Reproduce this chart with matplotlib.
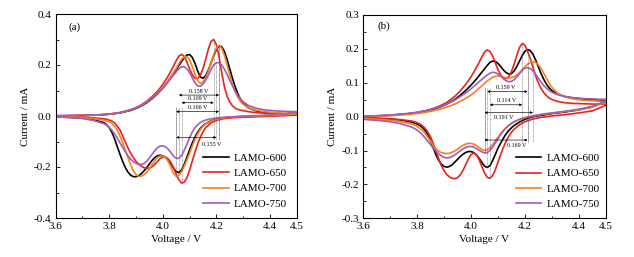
import numpy as np
import matplotlib
matplotlib.use("Agg")
import matplotlib.pyplot as plt

plt.rcParams["font.family"] = ["Liberation Serif", "DejaVu Serif"]
plt.rcParams["axes.unicode_minus"] = False

SAMPLES = ["LAMO-600", "LAMO-650", "LAMO-700", "LAMO-750"]
COLORS = ["#000000", "#e8231f", "#f5801f", "#a45cb6"]

# voltage grids (V) for the anodic (charge) and cathodic (discharge) sweeps
V_OX = [3.60, 3.70, 3.76, 3.80, 3.84, 3.88, 3.91, 3.94, 3.96,
        3.98, 3.99, 4.00, 4.01, 4.02, 4.03, 4.04, 4.05, 4.06, 4.07, 4.08,
        4.09, 4.10, 4.11, 4.12, 4.13, 4.14, 4.15, 4.16, 4.17, 4.18, 4.19,
        4.20, 4.21, 4.22, 4.23, 4.24, 4.25, 4.26, 4.27, 4.28, 4.29, 4.30,
        4.32, 4.35, 4.38, 4.42, 4.46, 4.50]
V_RED = [3.60, 3.65, 3.70, 3.74,
         3.78, 3.79, 3.80, 3.81, 3.82, 3.83, 3.84, 3.85, 3.86, 3.87,
         3.88, 3.89, 3.90, 3.91, 3.92, 3.93, 3.94, 3.95, 3.96, 3.97,
         3.98, 3.99, 4.00, 4.01, 4.02, 4.03, 4.04, 4.05, 4.06, 4.07,
         4.08, 4.09, 4.10, 4.11, 4.12, 4.13, 4.14, 4.15, 4.16,
         4.18, 4.20, 4.23, 4.26, 4.30, 4.35, 4.40, 4.45, 4.50]

# ---- panel (a) currents (mA) ----
A_OX_600 = [0.000, 0.002, 0.004, 0.007, 0.012, 0.022, 0.034, 0.052, 0.068,
            0.087, 0.098, 0.110, 0.123, 0.137, 0.152, 0.167, 0.182, 0.198, 0.214, 0.229,
            0.239, 0.241, 0.230, 0.207, 0.177, 0.153, 0.148, 0.158, 0.180, 0.208, 0.236,
            0.260, 0.274, 0.272, 0.253, 0.222, 0.185, 0.148, 0.115, 0.088, 0.066, 0.050,
            0.032, 0.020, 0.014, 0.010, 0.008, 0.008]
A_OX_650 = [0.000, 0.002, 0.004, 0.007, 0.013, 0.024, 0.037, 0.058, 0.076,
            0.097, 0.110, 0.124, 0.140, 0.157, 0.176, 0.196, 0.217, 0.235, 0.242, 0.233,
            0.212, 0.185, 0.162, 0.148, 0.147, 0.160, 0.186, 0.222, 0.262, 0.293, 0.300,
            0.280, 0.232, 0.170, 0.115, 0.078, 0.055, 0.040, 0.031, 0.026, 0.023, 0.021,
            0.017, 0.013, 0.011, 0.009, 0.007, 0.006]
A_OX_700 = [0.000, 0.002, 0.004, 0.007, 0.013, 0.024, 0.036, 0.055, 0.071,
            0.090, 0.101, 0.113, 0.126, 0.140, 0.155, 0.171, 0.187, 0.205, 0.222, 0.233,
            0.233, 0.220, 0.195, 0.165, 0.138, 0.128, 0.133, 0.150, 0.176, 0.207, 0.239,
            0.266, 0.277, 0.266, 0.238, 0.200, 0.160, 0.124, 0.095, 0.073, 0.057, 0.046,
            0.032, 0.022, 0.017, 0.013, 0.011, 0.010]
A_OX_750 = [0.002, 0.003, 0.005, 0.008, 0.014, 0.025, 0.037, 0.055, 0.070,
            0.088, 0.098, 0.109, 0.121, 0.134, 0.147, 0.160, 0.173, 0.185, 0.193, 0.193,
            0.185, 0.170, 0.150, 0.130, 0.118, 0.117, 0.125, 0.140, 0.160, 0.182, 0.200,
            0.209, 0.209, 0.200, 0.184, 0.163, 0.140, 0.118, 0.098, 0.081, 0.067, 0.056,
            0.041, 0.030, 0.024, 0.020, 0.018, 0.017]

A_RED_600 = [-0.004, -0.005, -0.008, -0.015,
             -0.026, -0.034, -0.046, -0.064, -0.090, -0.120, -0.150, -0.178, -0.202, -0.220,
             -0.232, -0.238, -0.238, -0.234, -0.226, -0.215, -0.202, -0.188, -0.174, -0.163,
             -0.156, -0.154, -0.156, -0.162, -0.172, -0.187, -0.204, -0.218, -0.222, -0.212,
             -0.190, -0.162, -0.133, -0.106, -0.083, -0.064, -0.049, -0.038, -0.030,
             -0.019, -0.012, -0.007, -0.004, -0.002, 0.000, 0.002, 0.004, 0.008]
A_RED_650 = [-0.003, -0.004, -0.005, -0.007,
             -0.011, -0.013, -0.016, -0.020, -0.027, -0.040, -0.055, -0.078, -0.102, -0.125,
             -0.146, -0.163, -0.178, -0.189, -0.197, -0.203, -0.205, -0.204, -0.199, -0.190,
             -0.178, -0.167, -0.161, -0.161, -0.168, -0.182, -0.203, -0.228, -0.250, -0.263,
             -0.260, -0.242, -0.212, -0.177, -0.142, -0.110, -0.083, -0.062, -0.046,
             -0.027, -0.017, -0.010, -0.007, -0.005, -0.003, -0.001, 0.001, 0.004]
A_RED_700 = [-0.004, -0.005, -0.007, -0.010,
             -0.016, -0.019, -0.023, -0.029, -0.040, -0.056, -0.078, -0.105, -0.135, -0.164,
             -0.192, -0.215, -0.230, -0.237, -0.236, -0.230, -0.220, -0.206, -0.190, -0.175,
             -0.163, -0.157, -0.157, -0.163, -0.178, -0.200, -0.225, -0.237, -0.232, -0.218,
             -0.197, -0.172, -0.146, -0.118, -0.092, -0.070, -0.053, -0.040, -0.031,
             -0.020, -0.013, -0.007, -0.004, -0.002, 0.000, 0.002, 0.005, 0.009]
A_RED_750 = [-0.004, -0.006, -0.010, -0.017,
             -0.030, -0.036, -0.045, -0.056, -0.070, -0.087, -0.105, -0.123, -0.140, -0.156,
             -0.169, -0.179, -0.186, -0.190, -0.190, -0.186, -0.177, -0.164, -0.150, -0.136,
             -0.124, -0.118, -0.117, -0.121, -0.130, -0.143, -0.157, -0.166, -0.166, -0.155,
             -0.135, -0.110, -0.085, -0.063, -0.046, -0.034, -0.026, -0.020, -0.016,
             -0.011, -0.008, -0.005, -0.003, -0.001, 0.001, 0.004, 0.008, 0.014]

# ---- panel (b) currents (mA) ----
B_OX_600 = [0.000, 0.004, 0.008, 0.012, 0.018, 0.027, 0.037, 0.051, 0.063,
            0.077, 0.085, 0.093, 0.102, 0.111, 0.121, 0.131, 0.141, 0.151, 0.160, 0.164,
            0.163, 0.157, 0.148, 0.138, 0.130, 0.126, 0.127, 0.135, 0.148, 0.164, 0.180,
            0.193, 0.198, 0.195, 0.184, 0.167, 0.147, 0.127, 0.110, 0.096, 0.085, 0.077,
            0.067, 0.059, 0.055, 0.052, 0.050, 0.048]
B_OX_650 = [0.000, 0.004, 0.008, 0.012, 0.019, 0.030, 0.042, 0.060, 0.076,
            0.095, 0.106, 0.118, 0.131, 0.145, 0.160, 0.176, 0.190, 0.197, 0.193, 0.179,
            0.159, 0.139, 0.123, 0.114, 0.112, 0.118, 0.133, 0.155, 0.181, 0.204, 0.216,
            0.211, 0.192, 0.172, 0.145, 0.120, 0.099, 0.083, 0.071, 0.062, 0.055, 0.051,
            0.045, 0.041, 0.039, 0.038, 0.037, 0.037]
B_OX_700 = [0.000, 0.003, 0.006, 0.009, 0.014, 0.021, 0.028, 0.037, 0.045,
            0.054, 0.059, 0.064, 0.070, 0.077, 0.084, 0.091, 0.098, 0.105, 0.111, 0.116,
            0.119, 0.120, 0.119, 0.117, 0.115, 0.114, 0.115, 0.118, 0.123, 0.130, 0.138,
            0.147, 0.155, 0.160, 0.162, 0.160, 0.153, 0.142, 0.128, 0.113, 0.099, 0.087,
            0.070, 0.058, 0.052, 0.048, 0.046, 0.045]
B_OX_750 = [0.001, 0.005, 0.009, 0.013, 0.019, 0.028, 0.037, 0.049, 0.059,
            0.070, 0.076, 0.082, 0.089, 0.096, 0.103, 0.110, 0.117, 0.123, 0.128, 0.131,
            0.130, 0.126, 0.120, 0.112, 0.106, 0.103, 0.104, 0.109, 0.117, 0.127, 0.137,
            0.143, 0.145, 0.142, 0.135, 0.125, 0.113, 0.102, 0.092, 0.084, 0.077, 0.072,
            0.065, 0.059, 0.056, 0.053, 0.052, 0.051]

B_RED_600 = [-0.004, -0.005, -0.007, -0.010,
             -0.016, -0.019, -0.022, -0.026, -0.032, -0.041, -0.054, -0.072, -0.093, -0.113,
             -0.129, -0.140, -0.147, -0.149, -0.147, -0.142, -0.134, -0.126, -0.118, -0.111,
             -0.106, -0.103, -0.103, -0.106, -0.113, -0.123, -0.135, -0.146, -0.150, -0.145,
             -0.130, -0.112, -0.093, -0.078, -0.064, -0.051, -0.041, -0.033, -0.026,
             -0.016, -0.008, 0.000, 0.004, 0.009, 0.014, 0.020, 0.029, 0.046]
B_RED_650 = [-0.004, -0.005, -0.007, -0.009,
             -0.013, -0.015, -0.018, -0.022, -0.027, -0.035, -0.046, -0.060, -0.080, -0.102,
             -0.125, -0.145, -0.160, -0.171, -0.178, -0.182, -0.183, -0.180, -0.172, -0.159,
             -0.142, -0.125, -0.112, -0.107, -0.112, -0.127, -0.147, -0.166, -0.179, -0.182,
             -0.174, -0.157, -0.135, -0.112, -0.091, -0.073, -0.058, -0.046, -0.037,
             -0.024, -0.015, -0.007, -0.002, 0.002, 0.006, 0.011, 0.017, 0.033]
B_RED_700 = [-0.006, -0.008, -0.011, -0.015,
             -0.022, -0.025, -0.029, -0.034, -0.041, -0.050, -0.061, -0.073, -0.085, -0.095,
             -0.102, -0.106, -0.108, -0.109, -0.108, -0.105, -0.101, -0.096, -0.090, -0.085,
             -0.081, -0.079, -0.079, -0.081, -0.085, -0.091, -0.097, -0.100, -0.098, -0.092,
             -0.083, -0.072, -0.061, -0.050, -0.041, -0.033, -0.026, -0.020, -0.015,
             -0.008, -0.003, 0.002, 0.006, 0.010, 0.015, 0.020, 0.028, 0.042]
B_RED_750 = [-0.008, -0.011, -0.015, -0.021,
             -0.031, -0.035, -0.040, -0.046, -0.054, -0.063, -0.073, -0.083, -0.093, -0.102,
             -0.110, -0.116, -0.120, -0.122, -0.121, -0.118, -0.113, -0.107, -0.101, -0.095,
             -0.091, -0.088, -0.088, -0.090, -0.094, -0.099, -0.104, -0.107, -0.106, -0.100,
             -0.090, -0.078, -0.065, -0.053, -0.042, -0.033, -0.026, -0.020, -0.015,
             -0.008, -0.003, 0.002, 0.007, 0.011, 0.016, 0.022, 0.030, 0.045]

# peak separation labels (order: 600, 650, 700, 750)
DELTA_A = ["0.158 V", "0.109 V", "0.166 V", "0.155 V"]
DELTA_B = ["0.159 V", "0.114 V", "0.191 V", "0.169 V"]

FS = 8.0


def peak_v(v, i, lo, hi, kind):
    v = np.asarray(v)
    i = np.asarray(i)
    m = (v >= lo) & (v <= hi)
    idx = np.where(m)[0]
    j = idx[np.argmax(i[idx])] if kind == "max" else idx[np.argmin(i[idx])]
    return v[j], i[j]


def draw_panel(ax, ox_list, red_list, ylim, ymaj, ymin_step, tag, tag_xy,
               deltas, arrow_y, text_xy, ox_vline_to, red_vline_to, leg_anchor):
    vo = np.asarray(V_OX)
    vr = np.asarray(V_RED)
    for name, col, ox, red in zip(SAMPLES, COLORS, ox_list, red_list):
        v = np.concatenate([vo, vr[::-1]])
        cur = np.concatenate([np.asarray(ox), np.asarray(red)[::-1]])
        ax.plot(v, cur, color=col, lw=1.2, label=name, solid_joinstyle="round")

    for k, (ox, red) in enumerate(zip(ox_list, red_list)):
        va, ia = peak_v(V_OX, ox, 4.15, 4.30, "max")
        vc, ic = peak_v(V_RED, red, 4.00, 4.12, "min")
        ax.plot([va, va], [ia, ox_vline_to], ls=(0, (1, 1)), lw=0.45, color="0.35")
        ax.plot([vc, vc], [ic, red_vline_to], ls=(0, (1, 1)), lw=0.45, color="0.35")
        ax.annotate("", xy=(va, arrow_y[k]), xytext=(vc, arrow_y[k]),
                    arrowprops=dict(arrowstyle="<|-|>", color="k", lw=0.45,
                                    mutation_scale=3.5, shrinkA=0, shrinkB=0))
        ax.text(text_xy[k][0], text_xy[k][1], deltas[k], fontsize=4.3,
                ha="center", va="center")

    ax.set_xlim(3.6, 4.5)
    ax.set_ylim(*ylim)
    ax.set_xticks([3.6, 3.8, 4.0, 4.2, 4.4, 4.5])
    ax.set_xticks([3.7, 3.9, 4.1, 4.3], minor=True)
    ax.set_yticks(np.round(np.arange(ylim[0], ylim[1] + 1e-9, ymaj), 3))
    ax.set_yticks(np.round(np.arange(ylim[0], ylim[1] + 1e-9, ymin_step), 3), minor=True)
    ax.tick_params(which="both", direction="in", top=False, right=False,
                   labelsize=FS, width=0.6, pad=3)
    ax.tick_params(which="major", length=3)
    ax.tick_params(which="minor", length=1.8)
    for s in ax.spines.values():
        s.set_linewidth(0.8)
    ax.set_xlabel("Voltage / V", fontsize=FS, labelpad=2.5)
    ax.set_ylabel("Current / mA", fontsize=FS, labelpad=3)
    ax.text(tag_xy[0], tag_xy[1], tag, fontsize=FS, ha="center", va="center")
    ax.legend(loc="lower right", bbox_to_anchor=leg_anchor, frameon=False,
              fontsize=FS, handlelength=2.3, handletextpad=0.5,
              labelspacing=0.5, borderpad=0, borderaxespad=0)


fig = plt.figure(figsize=(6.34, 2.57), dpi=100)
ax_a = fig.add_axes([55.7 / 634, 39 / 257, 241 / 634, 204 / 257])
ax_b = fig.add_axes([363.3 / 634, 38.7 / 257, 242.4 / 634, 203.3 / 257])

draw_panel(ax_a, [A_OX_600, A_OX_650, A_OX_700, A_OX_750],
           [A_RED_600, A_RED_650, A_RED_700, A_RED_750],
           (-0.4, 0.4), 0.2, 0.1, "(a)", (3.672, 0.35), DELTA_A,
           [0.082, 0.052, 0.017, -0.084],
           [(4.135, 0.097), (4.13, 0.067), (4.13, 0.032), (4.182, -0.112)],
           -0.095, 0.036, (0.961, 0.045))

draw_panel(ax_b, [B_OX_600, B_OX_650, B_OX_700, B_OX_750],
           [B_RED_600, B_RED_650, B_RED_700, B_RED_750],
           (-0.3, 0.3), 0.1, 0.05, "(b)", (3.677, 0.266), DELTA_B,
           [0.074, 0.035, 0.012, -0.069],
           [(4.13, 0.087), (4.132, 0.047), (4.12, -0.002), (4.17, -0.086)],
           -0.074, 0.084, (0.976, 0.045))

fig.savefig("out.png", dpi=100)
